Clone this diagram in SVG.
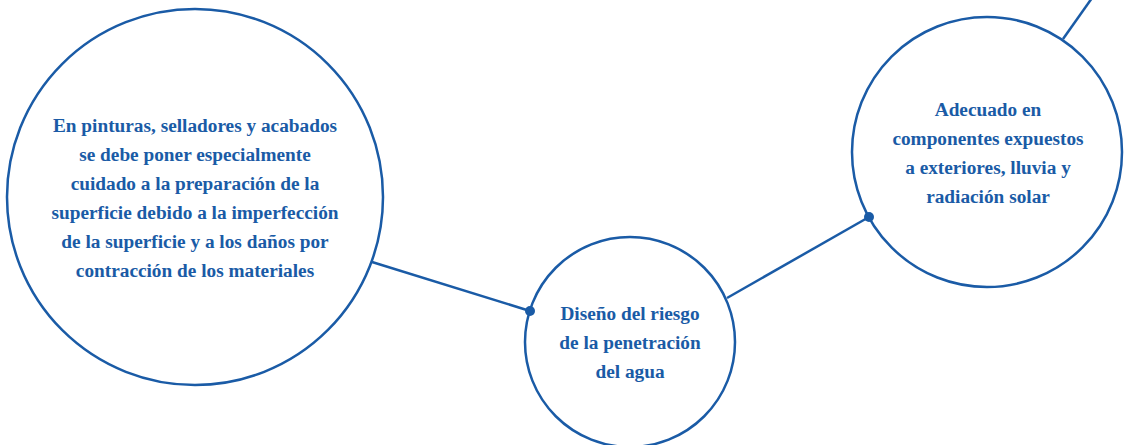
<svg xmlns="http://www.w3.org/2000/svg" width="1124" height="445" viewBox="0 0 1124 445">
<style>
.c{fill:#fff;stroke:#1a5ba6;stroke-width:2.5}
.t{font-family:"Liberation Serif",serif;font-weight:bold;font-size:19.3px;fill:#1a5ba6;text-anchor:middle}
.l{stroke:#1a5ba6;stroke-width:2.5;fill:none}
.d{fill:#1a5ba6}
</style>
<rect width="1124" height="445" fill="#fff"/>
<g id="connectors">
<line class="l" x1="372" y1="262" x2="530" y2="311"/>
<line class="l" x1="727" y1="298" x2="869" y2="217"/>
<line class="l" x1="1063" y1="39" x2="1092" y2="-2"/>
</g>
<g id="node-left">
<circle class="c" cx="195" cy="197" r="188"/>
<text class="t" x="195" y="132">En pinturas, selladores y acabados</text>
<text class="t" x="195" y="161">se debe poner especialmente</text>
<text class="t" x="195" y="190">cuidado a la preparación de la</text>
<text class="t" x="195" y="219">superficie debido a la imperfección</text>
<text class="t" x="195" y="248">de la superficie y a los daños por</text>
<text class="t" x="195" y="277">contracción de los materiales</text>
</g>
<g id="node-middle">
<circle class="c" cx="630" cy="342" r="105"/>
<text class="t" x="630" y="320">Diseño del riesgo</text>
<text class="t" x="630" y="349">de la penetración</text>
<text class="t" x="630" y="378">del agua</text>
</g>
<g id="node-right">
<circle class="c" cx="987" cy="152" r="135"/>
<text class="t" x="988" y="116">Adecuado en</text>
<text class="t" x="988" y="145">componentes expuestos</text>
<text class="t" x="988" y="174">a exteriores, lluvia y</text>
<text class="t" x="988" y="203">radiación solar</text>
</g>
<circle class="d" cx="530" cy="311" r="5"/>
<circle class="d" cx="869" cy="217" r="5"/>
</svg>
